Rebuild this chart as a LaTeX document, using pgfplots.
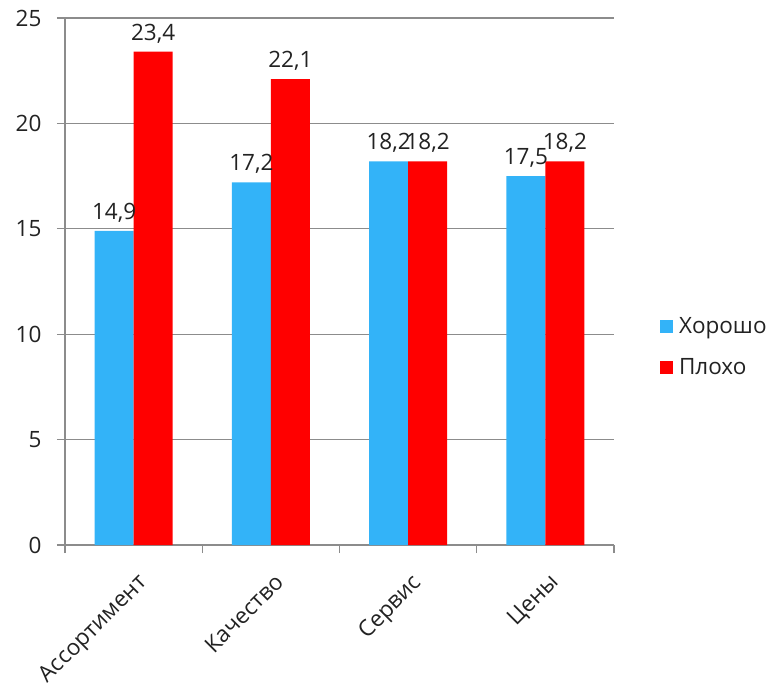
\documentclass[border=0pt]{standalone}
\usepackage{fontspec}
\setmainfont{Open Sans}
\usepackage{pgfplots}
\pgfplotsset{compat=1.18}
\definecolor{cblue}{RGB}{51,179,248}
\definecolor{cred}{RGB}{255,0,0}
\definecolor{cgrid}{RGB}{140,140,140}
\definecolor{ctext}{RGB}{34,34,34}
\begin{document}
\begin{tikzpicture}
\useasboundingbox (0,0) rectangle (779pt,686pt);
\begin{axis}[
  at={(65pt,141pt)}, anchor=south west,
  scale only axis, width=549pt, height=527pt,
  font=\fontsize{22.5}{27}\selectfont,
  /pgf/number format/assume math mode=true,
  ybar=0pt, bar width=39pt,
  xmin=-0.5, xmax=3.5, ymin=0, ymax=25,
  axis x line*=bottom, axis y line*=left,
  axis line style={cgrid, line width=1.3pt},
  ytick={0,5,...,25},
  ymajorgrids, grid style={cgrid, line width=1.3pt},
  major tick length=8pt,
  tick style={cgrid, line width=1.3pt},
  ytick pos=left,
  xtick={0,1,2,3},
  xticklabels={Ассортимент,Качество,Сервис,Цены},
  x tick style={draw=none},
  minor xtick={-0.5,0.5,1.5,2.5,3.5},
  minor x tick style={draw=cgrid, line width=1.3pt},
  minor tick length=8pt,
  xtick pos=bottom,
  xticklabel style={rotate=45, anchor=north east, text=ctext, xshift=-8pt, yshift=-12pt},
  yticklabel style={text=ctext, xshift=-12pt},
  tick align=outside,
  nodes near coords,
  nodes near coords style={font=\fontsize{22.5}{27}\selectfont, text=ctext, anchor=south, yshift=5pt,
    /pgf/number format/.cd, fixed, fixed zerofill, precision=1, use comma, assume math mode=true},
  legend style={at={(1.078,0.376)}, anchor=west, draw=none, fill=none,
    font=\fontsize{22.5}{27}\selectfont, text=ctext, row sep=20pt,
    legend cell align=left, nodes={inner xsep=6pt}},
  legend image code/.code={\draw[#1, draw=none] (0pt,-6.5pt) rectangle (13pt,6.5pt);},
  enlargelimits=false, clip=false,
]
\addplot[fill=cblue, draw=none] coordinates {(0,14.9) (1,17.2) (2,18.2) (3,17.5)};
\addplot[fill=cred, draw=none] coordinates {(0,23.4) (1,22.1) (2,18.2) (3,18.2)};
\legend{Хорошо,Плохо}
\end{axis}
\end{tikzpicture}
\end{document}
